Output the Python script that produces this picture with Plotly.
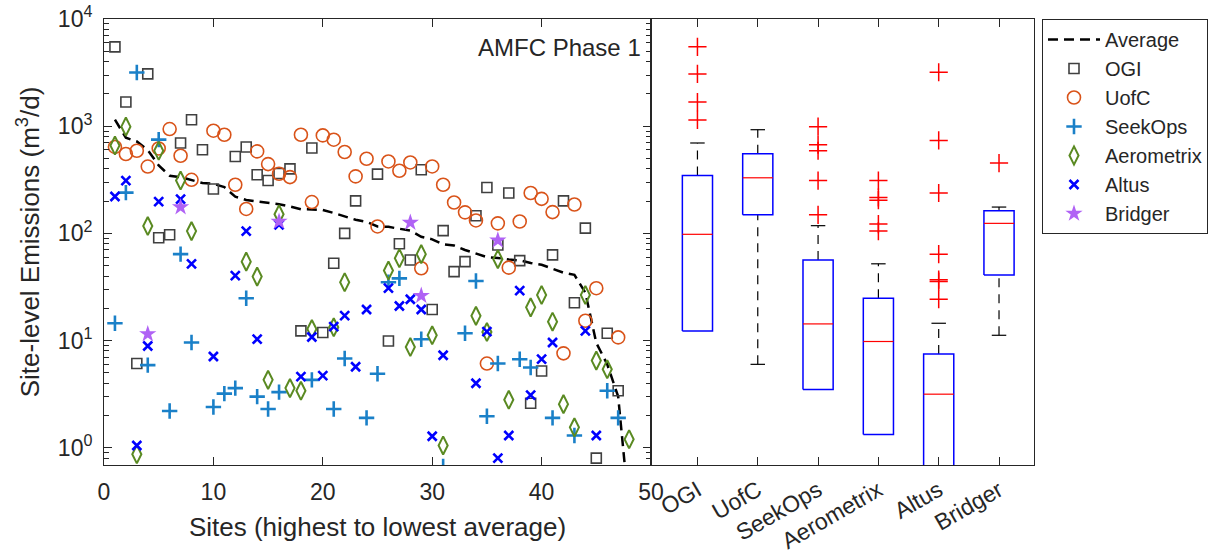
import plotly.graph_objects as go

# ---------------- data ----------------
sites = list(range(1, 49))

average = [1150, 780, 720, 600, 430, 345, 335, 316, 295, 290, 270, 220, 205, 198, 193, 187,
           178, 168, 167, 165, 155, 145, 134, 128, 116, 115, 111, 106, 93, 88, 79, 77,
           70, 65, 60, 59, 57, 56, 53, 51, 47, 43, 41, 28, 9.5, 6, 3, 0.26]

ogi = [5500, 1680, 6.1, 3075, 91, 97, 697, 1150, 603, 259, None, 522, 640, 352, 311, 362,
       400, 12.3, 625, 11.9, 52.6, 100, 201, None, 357, 9.9, 80, 56.5, 392, 19.5, 106, 44,
       54.5, 146, 268, 78, 238, 55.7, 2.6, 5.2, 63, 201, 22.5, 112, 0.8, 11.7, 3.4, None]

uofc = [640, 550, 590, 420, 620, 940, 530, 316, None, 908, 832, 284, 169, 582, 443, 360,
        335, 832, 196, 820, 748, 574, 340, 497, 116, 469, 384, 459, 47.3, 421, 284, 194,
        157, 132, 6.1, 124, 47.9, 129, 238, 210, 158, 7.6, 186, 15.3, 30.8, None, 10.7, None]

seekops = [14.5, 240, 3170, 5.9, 750, 2.2, 64, 9.6, None, 2.4, 3.2, 3.6, 24.8, 3.0, 2.3, 3.3,
           None, None, 4.3, None, 2.3, 6.8, None, 1.9, 4.9, 35, 38, None, 10.3, None, 0.67, None,
           11.7, 36, 1.97, 6.1, None, 6.7, 5.6, None, 1.9, None, 1.3, None, None, 3.4, 1.9, None]

aerometrix = [660, 990, 0.87, 117, 590, None, 311, 105, None, None, None, None, 54.5, 39.5, 4.3, 151,
              3.6, 3.4, 12.8, None, 13.3, 35, None, None, None, 45, 58.6, 8.7, 64, 11.2, 1.05, None,
              None, 17, 12, 57.4, 2.8, None, 20.4, 26.6, 15, 2.55, 1.55, 26.6, 6.5, 5.4, None, 1.2]

altus = [221, 311, 1.05, 8.9, 198, None, 209, 52, None, 7.1, None, 40.3, 105, 10.3, None, 120,
         None, 4.6, 10.8, 4.7, 13.5, 17.1, 5.7, 19.5, None, 30.8, 21, 24.3, 19.5, 1.28, 7.3, None,
         None, 4.0, 12.1, 0.8, 1.3, 29.2, 3.1, 6.7, 9.6, None, None, 12.3, 1.3, None, None, None]

bridger = [None, None, None, 11.5, None, None, 176, None, None, None, None, None, None, None, None, 129,
           None, None, None, None, None, None, None, None, None, None, None, 126, 26.2, None, None, None,
           None, None, None, 86, None, None, None, None, None, None, None, None, None, None, None, None]

# box-plot statistics (right panel)
box_categories = ["OGI", "UofC", "SeekOps", "Aerometrix", "Altus", "Bridger"]
box_q1 = [12.3, 149, 3.5, 1.33, 0.3, 41]
box_median = [98, 330, 14.3, 9.8, 3.16, 124]
box_q3 = [347, 553, 56.5, 24.8, 7.5, 163]
box_upper = [697, 927, 118, 52, 14.5, 176]
box_lower = [None, 6.0, None, None, None, 11.2]
box_outliers = [
    [5500, 3075, 1680, 1143],
    [],
    [990, 671, 590, 311, 149],
    [311, 216, 204, 122, 105],
    [3185, 736, 238, 64, 37, 35.5, 24.3],
    [453],
]

x_ticks = [0, 10, 20, 30, 40, 50]
y_ticks = [1, 10, 100, 1000, 10000]
y_ticktext = ["10<sup>0</sup>", "10<sup>1</sup>", "10<sup>2</sup>", "10<sup>3</sup>", "10<sup>4</sup>"]
y_minor_ticks = [m * d for d in [0.1, 1, 10, 100, 1000] for m in range(2, 10)]

# ---------------- figure ----------------
FONT = "Liberation Sans, Arial, sans-serif"
TXT = "#262626"

fig = go.Figure()

fig.add_trace(go.Scatter(x=sites, y=average, mode="lines", name="Average",
                         line=dict(color="black", width=2.5, dash="10px,6px"),
                         xaxis="x", yaxis="y"))

series = [
    ("OGI", ogi, dict(symbol="square-open", size=10, color="#404040", line=dict(width=1.6, color="#404040"))),
    ("UofC", uofc, dict(symbol="circle-open", size=13, color="#D95319", line=dict(width=1.6, color="#D95319"))),
    ("SeekOps", seekops, dict(symbol="cross-thin-open", size=11, color="#1A80C8", line=dict(width=2.6, color="#1A80C8"))),
    ("Aerometrix", aerometrix, dict(symbol="diamond-tall-open", size=13, color="#5A8A22", line=dict(width=2, color="#5A8A22"))),
    ("Altus", altus, dict(symbol="x-thin-open", size=9, color="#0000FF", line=dict(width=2.6, color="#0000FF"))),
    ("Bridger", bridger, dict(symbol="star", size=13, color="#B062F5", line=dict(width=0))),
]
for name, vals, mk in series:
    fig.add_trace(go.Scatter(x=sites, y=vals, mode="markers", name=name, marker=mk,
                             xaxis="x", yaxis="y"))

# empty trace that carries the minor-tick overlay axis
fig.add_trace(go.Scatter(x=[None], y=[None], mode="markers", showlegend=False, hoverinfo="skip",
                         xaxis="x", yaxis="y3"))

# ---- box plots built from the statistics ----
half_w = 0.25
cap_w = 0.12
bx, by, mx, my, wx, wy, cx, cy = [], [], [], [], [], [], [], []
for i in range(len(box_categories)):
    p = i + 1
    bx += [p - half_w, p + half_w, p + half_w, p - half_w, p - half_w, None]
    by += [box_q1[i], box_q1[i], box_q3[i], box_q3[i], box_q1[i], None]
    mx += [p - half_w, p + half_w, None]
    my += [box_median[i], box_median[i], None]
    wx += [p, p, None]
    wy += [box_q3[i], box_upper[i], None]
    cx += [p - cap_w, p + cap_w, None]
    cy += [box_upper[i], box_upper[i], None]
    if box_lower[i] is not None:
        wx += [p, p, None]
        wy += [box_lower[i], box_q1[i], None]
        cx += [p - cap_w, p + cap_w, None]
        cy += [box_lower[i], box_lower[i], None]

fig.add_trace(go.Scatter(x=wx, y=wy, mode="lines", showlegend=False, hoverinfo="skip",
                         line=dict(color="black", width=1.2, dash="9px,7px"), xaxis="x2", yaxis="y2"))
fig.add_trace(go.Scatter(x=cx, y=cy, mode="lines", showlegend=False, hoverinfo="skip",
                         line=dict(color="black", width=1.2), xaxis="x2", yaxis="y2"))
fig.add_trace(go.Scatter(x=bx, y=by, mode="lines", showlegend=False, hoverinfo="skip",
                         line=dict(color="#0000FF", width=1.5), xaxis="x2", yaxis="y2"))
fig.add_trace(go.Scatter(x=mx, y=my, mode="lines", showlegend=False, hoverinfo="skip",
                         line=dict(color="#FF0000", width=1.2), xaxis="x2", yaxis="y2"))

ox, oy = [], []
for i, outs in enumerate(box_outliers):
    ox += [i + 1] * len(outs)
    oy += outs
fig.add_trace(go.Scatter(x=ox, y=oy, mode="markers", showlegend=False, hoverinfo="skip",
                         marker=dict(symbol="cross-thin-open", size=13, color="#FF0000",
                                     line=dict(width=1.5, color="#FF0000")),
                         xaxis="x2", yaxis="y2"))

split = 547 / 930
axis_common = dict(showline=True, linecolor=TXT, linewidth=1, mirror="ticks", ticks="inside",
                   tickcolor=TXT, ticklen=8, showgrid=False, zeroline=False, automargin=False,
                   tickfont=dict(family=FONT, size=23, color=TXT))

fig.update_layout(
    width=1216, height=558,
    margin=dict(l=104, r=182, t=19, b=93, autoexpand=False),
    plot_bgcolor="white", paper_bgcolor="white",
    font=dict(family=FONT, color=TXT),
    xaxis=dict(domain=[0, split], range=[0, 50], tickvals=x_ticks, anchor="y", ticklabelstandoff=6,
               title=dict(text="Sites (highest to lowest average)", font=dict(size=26, color=TXT), standoff=14),
               **axis_common),
    yaxis=dict(type="log", range=[-0.161, 4], tickmode="array", tickvals=y_ticks, ticktext=y_ticktext,
               anchor="x", ticklabelstandoff=6,
               title=dict(text="Site-level Emissions (m<sup>3</sup>/d)", font=dict(size=26, color=TXT), standoff=10),
               **axis_common),
    yaxis3=dict(type="log", range=[-0.161, 4], overlaying="y", anchor="x", side="left",
                tickmode="array", tickvals=y_minor_ticks, showticklabels=False,
                ticks="inside", ticklen=5, tickcolor=TXT, tickwidth=1, mirror="ticks",
                showline=False, showgrid=False, zeroline=False, automargin=False),
    xaxis2=dict(domain=[split, 1], range=[0.23, 6.58], tickvals=[1, 2, 3, 4, 5, 6], ticklabelstandoff=2,
                ticktext=box_categories, tickangle=-30, anchor="y2", **axis_common),
    yaxis2=dict(type="log", matches="y", anchor="x2", showticklabels=False, ticks="", automargin=False,
                showline=True, linecolor=TXT, linewidth=1, mirror=True, showgrid=False, zeroline=False),
    legend=dict(x=1.0086, y=1.0, xanchor="left", yanchor="top", bordercolor=TXT, borderwidth=1,
                bgcolor="white", font=dict(family=FONT, size=20, color=TXT), tracegroupgap=0,
                itemwidth=52),
    annotations=[dict(text="AMFC Phase 1", xref="x domain", yref="y domain", x=0.985, y=0.935,
                      xanchor="right", yanchor="middle", showarrow=False,
                      font=dict(family=FONT, size=24, color=TXT))],
)

fig.write_html("out.html", config={"displayModeBar": False},
               post_script="document.body.style.margin='0';")
